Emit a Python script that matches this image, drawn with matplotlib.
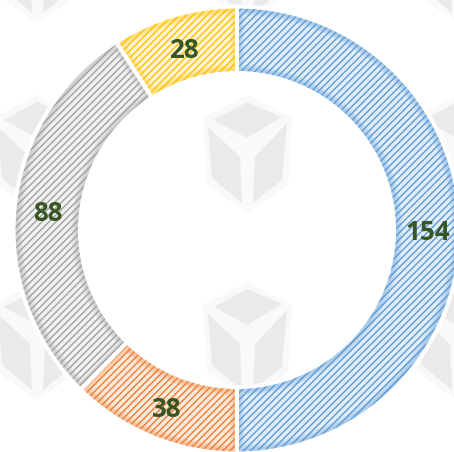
import numpy as np
import matplotlib
matplotlib.use("Agg")
import matplotlib.pyplot as plt
from matplotlib.patches import Wedge, Polygon

values = [154, 38, 88, 28]
labels = ["154", "38", "88", "28"]
colors = ["#5B9BD5", "#ED7D31", "#A0A0A0", "#FFC000"]
pale = ["#E2EDF8", "#FCE9DC", "#F2F2F2", "#FFF5D6"]
glow = ["#9CC2E8", "#F6B78C", "#C8C8C8", "#FFD966"]
text_color = "#375623"
cube_xs = [37, 247, 457]
cube_ys = [-35, 155, 342]

W, H = 454, 452
DPI = 125
plt.rcParams['hatch.linewidth'] = 0.8
plt.rcParams['font.family'] = ['Open Sans', 'DejaVu Sans']
fig = plt.figure(figsize=(W / DPI, H / DPI), dpi=DPI)
ax = fig.add_axes([0, 0, 1, 1])
ax.set_xlim(0, W)
ax.set_ylim(H, 0)
ax.axis("off")

OUTLINE = [(-44, -37), (0, -60), (45, -37), (41, 30), (0, 58), (-40, 30)]
TOP = [(-33, -35), (0, -53), (35, -38), (0, -17)]
LEFT = [(-39, -28), (-7, 2), (-5, 48), (-35, 23)]
RIGHT = [(40, -32), (8, 2), (6, 48), (35, 25)]

def cube(cx, cy):
    ax.add_patch(Polygon([(cx + x, cy + y) for x, y in OUTLINE], closed=True, fc="#F9F9F9", ec="none", zorder=1))
    for poly in (TOP, LEFT, RIGHT):
        ax.add_patch(Polygon([(cx + x, cy + y) for x, y in poly], closed=True, fc="#EAEAEA", ec="none", zorder=2))

for cy in cube_ys:
    for cx in cube_xs:
        cube(cx, cy)

CX, CY, R, RI = 237, 230, 222, 158.5
ring = R - RI
total = sum(values)
angle = 90.0
for v, lab, col, pl, gl in zip(values, labels, colors, pale, glow):
    sweep = 360 * v / total
    a1, a0 = angle, angle - sweep
    t0, t1 = -a1, -a0  # y axis is inverted
    base = Wedge((CX, CY), R, t0, t1, width=ring, fc=pl, ec="none", zorder=3)
    ax.add_patch(base)
    for lw, alpha in zip((14, 10, 7), (0.3, 0.35, 0.45)):
        w = Wedge((CX, CY), R, t0, t1, width=ring, fc="none", ec=gl, lw=lw * 72 / DPI, alpha=alpha, zorder=4)
        ax.add_patch(w)
        w.set_clip_path(base)
    ax.add_patch(Wedge((CX, CY), R, t0, t1, width=ring, fc="none", ec=col, hatch="//////", lw=0, zorder=5))
    ax.add_patch(Wedge((CX, CY), R + 1.5, t0, t1, width=ring + 3, fc="none", ec="white", lw=4 * 72 / DPI, zorder=6))
    mid = np.deg2rad((a0 + a1) / 2)
    rm = (R + RI) / 2
    ax.text(CX + rm * np.cos(mid) + 0.5, CY - rm * np.sin(mid) + 3, lab, ha="center", va="center",
            fontsize=26 * 72 / DPI, fontweight="bold", color=text_color, zorder=7)
    angle = a0

fig.savefig("out.png", dpi=DPI)
